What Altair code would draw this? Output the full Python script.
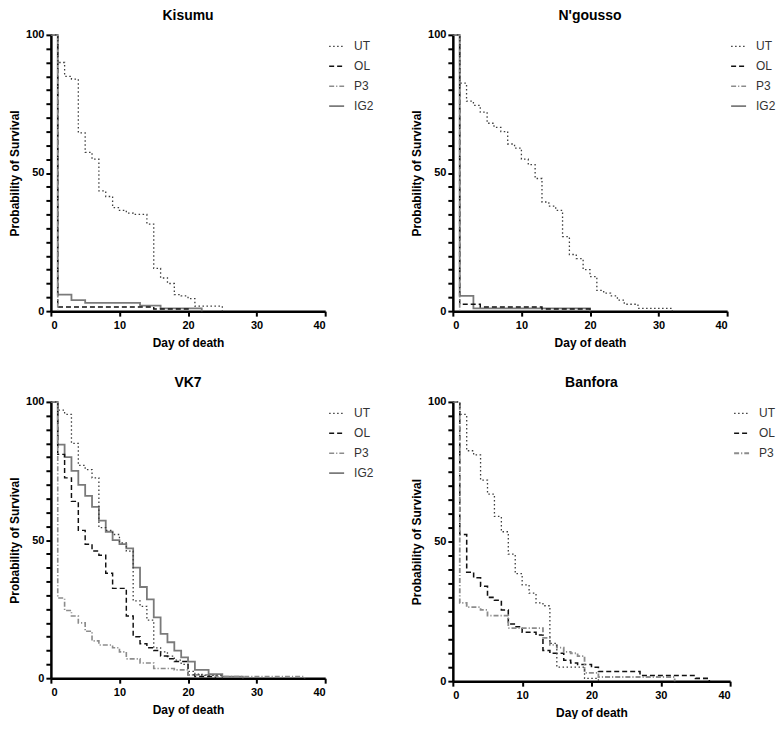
import altair as alt
import pandas as pd

# ---------------- data ----------------
series_names = ["UT", "OL", "P3", "IG2"]
series_colors = ["#3c3c3c", "#111111", "#8c8c8c", "#7a7a7a"]
series_dash = [[1.5, 2.5], [5, 3], [5, 2, 1.2, 2], [1, 0]]
series_width = [1.3, 1.8, 1.3, 1.6]
draw_order = ["IG2", "OL", "P3", "UT"]

# Kisumu
kis_ut_day = [0, 1, 2, 3, 4, 5, 6, 7, 8, 9, 10, 11, 12, 14, 15, 16, 17, 18, 19, 20, 21, 25]
kis_ut_surv = [100, 90, 85, 84, 64.5, 57.5, 55, 43.5, 41.5, 37.5, 36.5, 35.5, 35, 31.5, 15.5, 12, 10, 6, 5.5, 4.5, 1.8, 0]
kis_ol_day = [0, 1, 15, 20]
kis_ol_surv = [100, 1.5, 0.8, 0]
kis_p3_day = [0, 1]
kis_p3_surv = [100, 0]
kis_ig2_day = [0, 1, 3, 5, 13, 16, 22]
kis_ig2_surv = [100, 6, 4, 3, 2, 1, 0]

# N'gousso
ngo_ut_day = [0, 1, 2, 3, 4, 5, 6, 7, 8, 9, 10, 11, 12, 13, 14, 15, 16, 17, 18, 19, 20, 21, 22, 23, 24, 25, 27, 32]
ngo_ut_surv = [100, 82.5, 76, 74.5, 72, 68, 66.5, 65, 60.5, 59, 55, 53, 48, 39.5, 38, 36.5, 27, 20.5, 19, 15, 12.5, 7.5, 6.5, 5.5, 4, 2.5, 1, 0]
ngo_ol_day = [0, 1, 4, 13, 20]
ngo_ol_surv = [100, 2.5, 1.5, 0.8, 0]
ngo_p3_day = [0, 1]
ngo_p3_surv = [100, 0]
ngo_ig2_day = [0, 1, 3, 20]
ngo_ig2_surv = [100, 5.5, 1, 0]

# VK7
vk7_ut_day = [0, 1, 2, 3, 4, 5, 6, 7, 8, 9, 10, 11, 12, 13, 14, 15, 16, 17, 18, 19, 20, 21, 22, 25]
vk7_ut_surv = [100, 97, 95.5, 85, 77, 75.5, 72.5, 54.5, 53.5, 52, 49, 46, 28, 26, 21, 11, 9.5, 8, 6.5, 5, 2.5, 1.5, 1, 0]
vk7_ol_day = [0, 1, 2, 3, 4, 5, 6, 7, 8, 9, 11, 12, 13, 14, 15, 16, 17, 18, 20, 21, 24]
vk7_ol_surv = [100, 81, 72.5, 64, 53.5, 48.5, 46, 44.5, 38, 32.5, 22.5, 15, 12.5, 11, 10, 8, 7, 6, 1.2, 0.6, 0]
vk7_p3_day = [0, 1, 2, 3, 4, 5, 6, 7, 9, 10, 11, 13, 15, 18, 20, 24, 37]
vk7_p3_surv = [100, 29, 24.5, 22.5, 20, 17, 13.5, 12, 11, 9.5, 7, 5.5, 3.5, 3, 1.2, 0.6, 0]
vk7_ig2_day = [0, 1, 2, 3, 4, 5, 6, 7, 8, 9, 10, 11, 12, 13, 14, 15, 16, 17, 18, 19, 20, 21, 23, 25, 28]
vk7_ig2_surv = [100, 84.5, 80, 75, 70, 66, 62, 57, 53, 50, 48.5, 47, 40, 33, 28.5, 22, 16, 13, 10, 7.5, 6, 3, 1.5, 0.6, 0]

# Banfora
ban_ut_day = [0, 1, 2, 3, 4, 5, 6, 7, 8, 9, 10, 11, 12, 13, 14, 15, 19, 21]
ban_ut_surv = [100, 95.5, 82.5, 81, 72, 67, 59, 53.5, 45.5, 38.5, 34.5, 31.5, 28, 27, 13.5, 5, 1, 0]
ban_ol_day = [0, 1, 2, 3, 4, 5, 6, 7, 8, 9, 10, 12, 13, 14, 16, 17, 18, 20, 21, 27, 35, 37]
ban_ol_surv = [100, 52.5, 39, 37, 34, 30, 29, 25.5, 20.5, 19.5, 17.5, 16.5, 11, 10, 7.5, 6.5, 6, 5, 3.5, 2, 1, 0]
ban_p3_day = [0, 1, 2, 4, 5, 8, 13, 14, 15, 16, 17, 18, 19, 21, 32]
ban_p3_surv = [100, 28, 26.5, 25.5, 23.5, 19, 15.5, 13, 12, 10.5, 10, 9, 3, 1.5, 0]

panels = {
    "Kisumu": {"UT": (kis_ut_day, kis_ut_surv), "OL": (kis_ol_day, kis_ol_surv),
               "P3": (kis_p3_day, kis_p3_surv), "IG2": (kis_ig2_day, kis_ig2_surv)},
    "N'gousso": {"UT": (ngo_ut_day, ngo_ut_surv), "OL": (ngo_ol_day, ngo_ol_surv),
                 "P3": (ngo_p3_day, ngo_p3_surv), "IG2": (ngo_ig2_day, ngo_ig2_surv)},
    "VK7": {"UT": (vk7_ut_day, vk7_ut_surv), "OL": (vk7_ol_day, vk7_ol_surv),
            "P3": (vk7_p3_day, vk7_p3_surv), "IG2": (vk7_ig2_day, vk7_ig2_surv)},
    "Banfora": {"UT": (ban_ut_day, ban_ut_surv), "OL": (ban_ol_day, ban_ol_surv),
                "P3": (ban_p3_day, ban_p3_surv)},
}

FONT = "Arial, Liberation Sans, Helvetica, sans-serif"


def panel_chart(name, w, h):
    rows = []
    for s in draw_order:
        if s not in panels[name]:
            continue
        days, surv = panels[name][s]
        for d, v in zip(days, surv):
            rows.append({"series": s, "day": d, "surv": v})
    df = pd.DataFrame(rows)
    present = [s for s in series_names if s in panels[name]]
    idx = [series_names.index(s) for s in present]
    leg = alt.Legend(orient="none", legendX=w + 3, legendY=3, title=None)
    return alt.Chart(df).mark_line(interpolate="step-after").encode(
        x=alt.X("day:Q", scale=alt.Scale(domain=[0, 40], nice=False),
                axis=alt.Axis(values=[0, 10, 20, 30, 40], title="Day of death")),
        y=alt.Y("surv:Q", scale=alt.Scale(domain=[0, 100], nice=False),
                axis=alt.Axis(values=list(range(0, 101, 5)), labelOverlap=False,
                              labelExpr="datum.value % 50 == 0 ? datum.label : ''",
                              title="Probability of Survival")),
        color=alt.Color("series:N", sort=present,
                        scale=alt.Scale(domain=present, range=[series_colors[i] for i in idx]),
                        legend=leg, title=None),
        strokeDash=alt.StrokeDash("series:N", sort=present,
                                  scale=alt.Scale(domain=present, range=[series_dash[i] for i in idx]),
                                  legend=leg, title=None),
        strokeWidth=alt.StrokeWidth("series:N", sort=present,
                                    scale=alt.Scale(domain=present, range=[series_width[i] for i in idx]),
                                    legend=leg, title=None),
        order=alt.Order("day:Q"),
    ).properties(
        width=w, height=h,
        title=alt.TitleParams(name, fontSize=14, fontWeight="bold", font=FONT,
                              anchor="middle", frame="group", offset=6, color="#000000"),
    )


chart = alt.concat(
    panel_chart("Kisumu", 275, 277),
    panel_chart("N'gousso", 275, 277),
    panel_chart("VK7", 275, 277),
    panel_chart("Banfora", 278, 280),
    columns=2,
    spacing={"row": 28, "column": 36},
).resolve_scale(
    color="independent", strokeDash="independent", strokeWidth="independent"
).resolve_legend(
    color="independent", strokeDash="independent", strokeWidth="independent"
).properties(
    padding=0
).configure_view(
    strokeWidth=0
).configure_axis(
    grid=False,
    domainColor="#000000", domainWidth=2.5,
    tickColor="#000000", tickWidth=2, tickSize=5,
    labelFont=FONT, labelFontSize=11, labelFontWeight="bold", labelColor="#000000",
    labelPadding=2,
    titleFont=FONT, titleFontSize=12, titleFontWeight="bold", titleColor="#000000",
).configure_axisX(
    labelPadding=3, titlePadding=7,
).configure_axisY(
    titlePadding=4,
).configure_legend(
    labelFont=FONT, labelFontSize=12, labelColor="#333333",
    symbolSize=225, symbolType="stroke", labelOffset=9, rowPadding=5, padding=0,
)

chart.save("out.html", embed_options={"renderer": "svg", "actions": False})
